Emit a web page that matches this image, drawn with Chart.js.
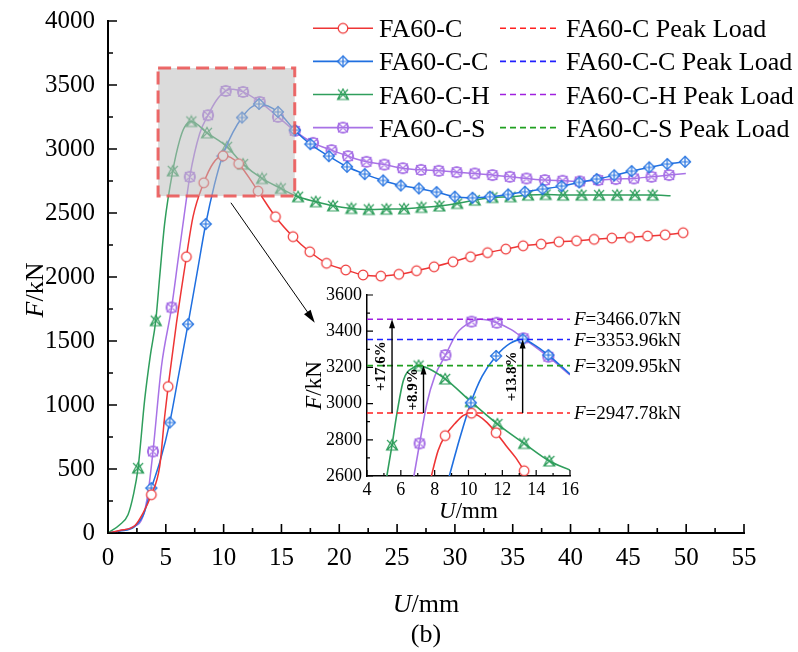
<!DOCTYPE html>
<html><head><meta charset="utf-8">
<title>FA60 load-displacement curves</title>
<script src="https://cdn.jsdelivr.net/npm/chart.js"></script>
<style>
  body { margin: 0; background: #fff; }
  #wrap { position: relative; width: 798px; height: 652px; }
  #wrap canvas { position: absolute; left: 0; top: 0; }
</style>
</head>
<body>
<div id="wrap">
  <canvas id="main" width="798" height="652"></canvas>
  <canvas id="inset" width="798" height="652"></canvas>
</div>
<script>
// ---- main chart data (U in mm, F in kN) ----
const redU = [0, 1.0, 2.31, 3.03, 3.75, 4.47, 4.9, 5.2, 5.92, 6.78, 7.35, 8.28, 9.08, 9.95, 10.6, 11.3, 12.98, 14.48, 16.0, 17.45, 18.9, 20.56, 22.06, 23.59, 25.15, 26.68, 28.2, 29.84, 31.35, 32.82, 34.4, 35.9, 37.46, 38.99, 40.52, 42.04, 43.57, 45.13, 46.66, 48.18, 49.74];
const redF = [0, 20, 57, 156, 299, 520, 910, 1144, 1639, 2158, 2470, 2736, 2887, 2947, 2935, 2885, 2671, 2471, 2315, 2197, 2107, 2055, 2016, 2007, 2021, 2049, 2080, 2119, 2158, 2190, 2218, 2244, 2257, 2275, 2283, 2294, 2304, 2310, 2320, 2330, 2346];
const redNoMark = [0, 1, 2, 3, 5, 6, 8, 10, 12, 14];

const blueU = [0, 1.0, 2.3, 3.1, 3.75, 4.5, 5.34, 6.1, 6.92, 7.7, 8.45, 9.2, 9.9, 10.8, 11.59, 12.3, 13.06, 14.7, 16.15, 17.5, 19.1, 20.67, 22.2, 23.79, 25.32, 26.88, 28.41, 29.99, 31.52, 33.02, 34.6, 36.05, 37.58, 39.22, 40.75, 42.25, 43.77, 45.28, 46.8, 48.36, 49.9];
const blueF = [0, 15, 50, 150, 351, 560, 863, 1230, 1631, 2030, 2414, 2720, 2944, 3130, 3246, 3320, 3352, 3290, 3147, 3038, 2944, 2861, 2804, 2754, 2715, 2692, 2663, 2627, 2619, 2627, 2645, 2666, 2687, 2710, 2739, 2765, 2794, 2827, 2856, 2882, 2900];
const blueNoMark = [0, 1, 2, 3, 5, 7, 9, 11, 13, 15];

const greenU = [0, 1.02, 1.73, 2.2, 2.6, 3.17, 3.65, 4.13, 4.47, 4.9, 5.6, 6.2, 6.63, 7.21, 8.56, 10.3, 11.68, 13.32, 14.94, 16.44, 17.97, 19.46, 21.05, 22.55, 24.08, 25.6, 27.11, 28.66, 30.2, 31.72, 33.25, 34.81, 36.33, 37.84, 39.36, 40.95, 42.47, 44.03, 45.56, 47.1, 48.65];
const greenF = [0, 65, 143, 300, 507, 1040, 1380, 1659, 2002, 2419, 2829, 3069, 3173, 3215, 3126, 3017, 2882, 2770, 2692, 2627, 2588, 2556, 2536, 2528, 2530, 2533, 2544, 2555, 2575, 2601, 2622, 2627, 2640, 2645, 2640, 2640, 2640, 2640, 2640, 2640, 2634];
const greenNoMark = [0, 1, 2, 3, 5, 6, 8, 9, 11, 12, 40];

const purpleU = [0, 1.0, 2.16, 3.03, 3.46, 3.89, 4.62, 5.5, 6.06, 6.57, 7.07, 7.93, 8.65, 9.38, 10.18, 10.81, 11.68, 13.12, 14.7, 16.15, 17.73, 19.33, 20.76, 22.35, 23.9, 25.5, 27.07, 28.6, 30.15, 31.72, 33.25, 34.75, 36.19, 37.78, 39.31, 40.8, 42.39, 43.92, 45.48, 47.0, 48.53, 49.97];
const purpleF = [0, 18, 47, 130, 312, 637, 1300, 1762, 2133, 2470, 2783, 3121, 3264, 3381, 3454, 3466, 3446, 3368, 3251, 3142, 3048, 2991, 2944, 2900, 2878, 2850, 2837, 2830, 2819, 2809, 2796, 2783, 2770, 2757, 2752, 2747, 2757, 2765, 2770, 2783, 2796, 2809];
const purpleNoMark = [0, 1, 2, 3, 4, 6, 8, 9, 11, 13, 15, 41];

const seriesNames = ['FA60-C', 'FA60-C-C', 'FA60-C-H', 'FA60-C-S'];

// zoom box and pointer arrow on the main chart
const boxU = [4.33, 16.15];
const boxF = [2632, 3633];
const pointerU = [10.63, 17.88];
const pointerF = [2580, 1643];

// ---- inset data ----
const insRedU = [7.7, 8.2, 8.62, 9.2, 9.7, 10.18, 10.6, 11.1, 11.63, 12.2, 12.8, 13.29];
const insRedF = [2560, 2740, 2823, 2890, 2935, 2947, 2932, 2895, 2839, 2770, 2700, 2629];
const insRedMarks = [2, 5, 8, 11];

const insBlueU = [8.75, 9.1, 9.51, 10.14, 10.8, 11.63, 12.46, 13.2, 13.8, 14.72, 16.0];
const insBlueF = [2560, 2680, 2817, 3005, 3150, 3263, 3333, 3355, 3330, 3268, 3163];
const insBlueMarks = [3, 5, 7, 9];

const insGreenU = [5.1, 5.48, 5.77, 6.16, 6.75, 7.05, 7.6, 8.62, 10.14, 11.71, 13.29, 14.78, 16.0];
const insGreenF = [2560, 2771, 2946, 3130, 3200, 3210, 3195, 3136, 3011, 2887, 2780, 2683, 2633];
const insGreenMarks = [1, 5, 7, 8, 9, 10, 11];

const insPurpleU = [6.7, 7.11, 7.54, 8.0, 8.64, 9.31, 10.18, 10.69, 11.67, 12.5, 13.25, 14.72, 16.0];
const insPurpleF = [2560, 2780, 3001, 3150, 3268, 3388, 3453, 3466, 3447, 3410, 3361, 3259, 3158];
const insPurpleMarks = [1, 4, 6, 8, 10, 11];

const peakNames = ['FA60-C Peak Load', 'FA60-C-C Peak Load', 'FA60-C-H Peak Load', 'FA60-C-S Peak Load'];
const peakLoads = [2947.78, 3353.96, 3466.07, 3209.95];

const gainU = [5.48, 7.34, 13.2];
const gainTop = [3466.07, 3209.95, 3353.96];
const gainText = ['+17.6%', '+8.9%', '+13.8%'];

// ---- styles ----
const FONT = "'Liberation Serif', 'Times New Roman', serif";
const lineColors = ['#ee3535', '#1f6fe0', '#2f9e5c', '#a872e6'];
const peakColors = ['#ff2020', '#2020ff', '#a020e0', '#20a020'];

function makeMarker(kind, color) {
  const c = document.createElement('canvas');
  c.width = 14; c.height = 14;
  const g = c.getContext('2d');
  g.strokeStyle = color; g.fillStyle = '#fff'; g.lineWidth = 1.2;
  const m = 7;
  g.beginPath();
  if (kind === 'circle') {
    g.arc(m, m, 4.8, 0, Math.PI * 2); g.fill(); g.stroke();
  } else if (kind === 'diamond') {
    g.moveTo(m, 1.5); g.lineTo(12.5, m); g.lineTo(m, 12.5); g.lineTo(1.5, m); g.closePath();
    g.fill(); g.stroke();
    g.beginPath(); g.moveTo(m, 1.5); g.lineTo(m, 12.5); g.moveTo(1.5, m); g.lineTo(12.5, m); g.stroke();
  } else if (kind === 'star') {
    g.moveTo(2, 2); g.lineTo(12, 12); g.moveTo(12, 2); g.lineTo(2, 12);
    g.moveTo(m, 1.5); g.lineTo(12.5, 12); g.lineTo(1.5, 12); g.closePath(); g.stroke();
  } else {
    g.rect(2.5, 2.5, 9, 9); g.moveTo(2.5, 2.5); g.lineTo(11.5, 11.5); g.moveTo(11.5, 2.5); g.lineTo(2.5, 11.5);
    g.stroke(); g.beginPath(); g.arc(m, m, 5.5, 0, Math.PI * 2); g.stroke();
  }
  return c;
}
const markers = [
  makeMarker('circle', lineColors[0]),
  makeMarker('diamond', lineColors[1]),
  makeMarker('star', lineColors[2]),
  makeMarker('circsq', lineColors[3])
];

function pts(us, fs) { return us.map((u, i) => ({ x: u, y: fs[i] })); }
const plain = v => String(v);

function drawMixed(ctx, parts, x, y, size, align) {
  const fonts = parts.map(p => (p[1] ? 'italic ' : '') + size + 'px ' + FONT);
  let total = 0;
  parts.forEach((p, i) => { ctx.font = fonts[i]; total += ctx.measureText(p[0]).width; });
  let cx = align === 'center' ? x - total / 2 : x;
  ctx.textAlign = 'left';
  parts.forEach((p, i) => { ctx.font = fonts[i]; ctx.fillText(p[0], cx, y); cx += ctx.measureText(p[0]).width; });
}

function arrowHead(ctx, x0, y0, x1, y1, len, half) {
  const a = Math.atan2(y1 - y0, x1 - x0);
  ctx.beginPath();
  ctx.moveTo(x1, y1);
  ctx.lineTo(x1 - len * Math.cos(a) + half * Math.sin(a), y1 - len * Math.sin(a) - half * Math.cos(a));
  ctx.lineTo(x1 - len * Math.cos(a) - half * Math.sin(a), y1 - len * Math.sin(a) + half * Math.cos(a));
  ctx.closePath();
  ctx.fill();
}

// inward major/minor tick marks on left and bottom axes
const inwardTicks = {
  id: 'inwardTicks',
  afterDraw(chart, args, o) {
    const ctx = chart.ctx, xs = chart.scales.x, ys = chart.scales.y;
    const a = chart.chartArea;
    ctx.save();
    ctx.strokeStyle = '#000';
    ctx.lineWidth = o.width;
    ctx.beginPath();
    for (let v = xs.min; v <= xs.max + 1e-6; v += o.xMinor) {
      const major = Math.abs(v / o.xMajor - Math.round(v / o.xMajor)) < 1e-6;
      const px = xs.getPixelForValue(v);
      ctx.moveTo(px, a.bottom); ctx.lineTo(px, a.bottom - (major ? o.major : o.minor));
    }
    for (let v = ys.min; v <= ys.max + 1e-6; v += o.yMinor) {
      const major = Math.abs(v / o.yMajor - Math.round(v / o.yMajor)) < 1e-6;
      const py = ys.getPixelForValue(v);
      ctx.moveTo(a.left, py); ctx.lineTo(a.left + (major ? o.major : o.minor), py);
    }
    ctx.stroke();
    ctx.restore();
  }
};

function markRadius(skip) { return c => (skip.includes(c.dataIndex) ? 0 : 6); }
function markOnly(list) { return c => (list.includes(c.dataIndex) ? 6 : 0); }

const mainSets = [[redU, redF, redNoMark], [blueU, blueF, blueNoMark], [greenU, greenF, greenNoMark], [purpleU, purpleF, purpleNoMark]]
  .map((s, i) => ({
    label: seriesNames[i],
    data: pts(s[0], s[1]),
    borderColor: lineColors[i],
    borderWidth: 1.5,
    cubicInterpolationMode: 'monotone',
    pointStyle: markers[i],
    pointRadius: markRadius(s[2])
  }));

const mainDecor = {
  id: 'mainDecor',
  afterDatasetsDraw(chart) {
    const ctx = chart.ctx, xs = chart.scales.x, ys = chart.scales.y;
    const x0 = xs.getPixelForValue(boxU[0]), x1 = xs.getPixelForValue(boxU[1]);
    const y0 = ys.getPixelForValue(boxF[1]), y1 = ys.getPixelForValue(boxF[0]);
    ctx.save();
    ctx.fillStyle = 'rgba(190,190,190,0.55)';
    ctx.fillRect(x0, y0, x1 - x0, y1 - y0);
    ctx.strokeStyle = 'rgba(235,80,80,0.85)';
    ctx.lineWidth = 3;
    ctx.setLineDash([13, 6]);
    ctx.strokeRect(x0, y0, x1 - x0, y1 - y0);
    ctx.setLineDash([]);
    // pointer arrow
    const ax0 = xs.getPixelForValue(pointerU[0]), ay0 = ys.getPixelForValue(pointerF[0]);
    const ax1 = xs.getPixelForValue(pointerU[1]), ay1 = ys.getPixelForValue(pointerF[1]);
    ctx.strokeStyle = '#000'; ctx.fillStyle = '#000'; ctx.lineWidth = 1;
    ctx.beginPath(); ctx.moveTo(ax0, ay0); ctx.lineTo(ax1 - 4, ay1 - 6); ctx.stroke();
    arrowHead(ctx, ax0, ay0, ax1, ay1, 13, 4);
    ctx.restore();
  },
  afterDraw(chart) {
    const ctx = chart.ctx;
    ctx.save();
    ctx.fillStyle = '#000';
    ctx.textBaseline = 'alphabetic';
    // axis titles
    drawMixed(ctx, [['U', true], ['/mm', false]], 426, 612, 26, 'center');
    ctx.font = '26px ' + FONT; ctx.textAlign = 'center';
    ctx.fillText('(b)', 426, 642);
    ctx.translate(43, 290); ctx.rotate(-Math.PI / 2);
    drawMixed(ctx, [['F', true], ['/kN', false]], 0, 0, 26, 'center');
    ctx.restore();
    // legend
    ctx.save();
    ctx.font = '26px ' + FONT;
    ctx.textAlign = 'left';
    ctx.textBaseline = 'alphabetic';
    for (let i = 0; i < 4; i++) {
      const y = 28.3 + i * 33.1;
      ctx.strokeStyle = lineColors[i]; ctx.lineWidth = 1.6;
      ctx.beginPath(); ctx.moveTo(313, y); ctx.lineTo(373, y); ctx.stroke();
      ctx.drawImage(markers[i], 343 - 7, y - 7);
      ctx.fillStyle = '#000';
      ctx.fillText(seriesNames[i], 379, y + 9);
      ctx.strokeStyle = peakColors[i]; ctx.lineWidth = 1.6;
      ctx.setLineDash([6, 4]);
      ctx.beginPath(); ctx.moveTo(500, y); ctx.lineTo(560, y); ctx.stroke();
      ctx.setLineDash([]);
      ctx.fillText(peakNames[i], 566, y + 9);
    }
    ctx.restore();
  }
};

new Chart(document.getElementById('main'), {
  type: 'line',
  data: { datasets: mainSets },
  options: {
    responsive: false,
    animation: false,
    layout: { padding: { left: 8, right: 54, top: 21, bottom: 19 } },
    plugins: {
      legend: { display: false }, tooltip: { enabled: false },
      inwardTicks: { width: 1.6, major: 9, minor: 5, xMajor: 5, xMinor: 2.5, yMajor: 500, yMinor: 250 }
    },
    scales: {
      x: {
        type: 'linear', min: 0, max: 55,
        ticks: { stepSize: 5, autoSkip: false, maxRotation: 0, padding: 10, color: '#000', font: { family: FONT, size: 25 }, callback: plain },
        grid: { display: false, drawTicks: false },
        border: { display: true, color: '#000', width: 2 },
        afterFit: s => { s.height = 100; s.paddingLeft = 0; s.paddingRight = 0; }
      },
      y: {
        type: 'linear', min: 0, max: 4000,
        ticks: { stepSize: 500, autoSkip: false, padding: 13, color: '#000', font: { family: FONT, size: 25 }, callback: plain },
        grid: { display: false, drawTicks: false },
        border: { display: true, color: '#000', width: 2 },
        afterFit: s => { s.width = 100; s.paddingTop = 0; s.paddingBottom = 0; }
      }
    }
  },
  plugins: [inwardTicks, mainDecor]
});

// ---- inset chart ----
const peakSets = peakLoads.map((v, i) => ({
  data: [{ x: 4, y: v }, { x: 16, y: v }],
  borderColor: peakColors[i],
  borderWidth: 1.6,
  borderDash: [6, 4],
  pointRadius: 0
}));
const insetSets = [[insRedU, insRedF, insRedMarks], [insBlueU, insBlueF, insBlueMarks], [insGreenU, insGreenF, insGreenMarks], [insPurpleU, insPurpleF, insPurpleMarks]]
  .map((s, i) => ({
    data: pts(s[0], s[1]),
    borderColor: lineColors[i],
    borderWidth: 1.6,
    cubicInterpolationMode: 'monotone',
    pointStyle: markers[i],
    pointRadius: markOnly(s[2])
  }));

const insetDecor = {
  id: 'insetDecor',
  afterDraw(chart) {
    const ctx = chart.ctx, xs = chart.scales.x, ys = chart.scales.y, a = chart.chartArea;
    ctx.save();
    ctx.fillStyle = '#000';
    ctx.textBaseline = 'middle';
    // peak value labels
    peakLoads.forEach(v => {
      drawMixed(ctx, [['F', true], ['=' + v.toFixed(2) + 'kN', false]], a.right + 4, ys.getPixelForValue(v) + 1, 19, 'left');
    });
    // gain arrows
    ctx.strokeStyle = '#000'; ctx.lineWidth = 1.4;
    const yb = ys.getPixelForValue(peakLoads[0]);
    gainU.forEach((u, i) => {
      const x = xs.getPixelForValue(u), yt = ys.getPixelForValue(gainTop[i]);
      ctx.beginPath(); ctx.moveTo(x, yb); ctx.lineTo(x, yt + 6); ctx.stroke();
      arrowHead(ctx, x, yb, x, yt, 9, 3);
      ctx.save();
      ctx.translate(x - 3, (yb + yt) / 2);
      ctx.rotate(-Math.PI / 2);
      ctx.font = 'bold 15px ' + FONT;
      ctx.textAlign = 'center';
      ctx.textBaseline = 'bottom';
      ctx.fillText(gainText[i], 0, 0);
      ctx.restore();
    });
    // axis titles
    ctx.textBaseline = 'alphabetic';
    drawMixed(ctx, [['U', true], ['/mm', false]], (a.left + a.right) / 2, 518, 23, 'center');
    ctx.translate(321, (a.top + a.bottom) / 2);
    ctx.rotate(-Math.PI / 2);
    drawMixed(ctx, [['F', true], ['/kN', false]], 0, 0, 23, 'center');
    ctx.restore();
  }
};

new Chart(document.getElementById('inset'), {
  type: 'line',
  data: { datasets: peakSets.concat(insetSets) },
  options: {
    responsive: false,
    animation: false,
    layout: { padding: { left: 307, right: 228, top: 295, bottom: 126 } },
    plugins: {
      legend: { display: false }, tooltip: { enabled: false },
      inwardTicks: { width: 1.2, major: 6, minor: 3, xMajor: 2, xMinor: 1, yMajor: 200, yMinor: 100 }
    },
    scales: {
      x: {
        type: 'linear', min: 4, max: 16,
        ticks: { stepSize: 2, autoSkip: false, maxRotation: 0, padding: 3, color: '#000', font: { family: FONT, size: 18 }, callback: plain },
        grid: { display: false, drawTicks: false },
        border: { display: true, color: '#000', width: 1.5 },
        afterFit: s => { s.height = 50; }
      },
      y: {
        type: 'linear', min: 2600, max: 3600,
        ticks: { stepSize: 200, autoSkip: false, padding: 5, color: '#000', font: { family: FONT, size: 18 }, callback: plain },
        grid: { display: false, drawTicks: false },
        border: { display: true, color: '#000', width: 1.5 },
        afterFit: s => { s.width = 60; }
      }
    }
  },
  plugins: [inwardTicks, insetDecor]
});
</script>
</body></html>
